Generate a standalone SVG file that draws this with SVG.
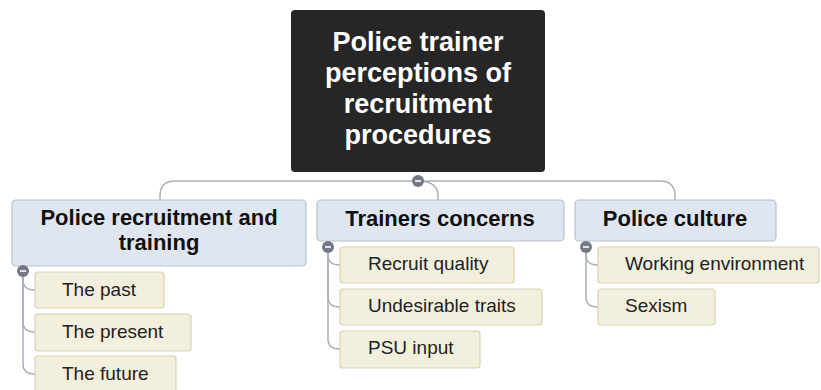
<svg xmlns="http://www.w3.org/2000/svg" width="821" height="390" viewBox="0 0 821 390">
<style>
.conn{fill:none;stroke:#a9afb8;stroke-width:1.5}
.root{fill:#262626}
.rt{font-family:"Liberation Sans",Arial,sans-serif;font-weight:bold;font-size:27px;fill:#fff;text-anchor:middle}
.l1{fill:#dfe6ef;stroke:#b9c1cc;stroke-width:1.2}
.t1{font-family:"Liberation Sans",Arial,sans-serif;font-weight:bold;font-size:22px;fill:#111;text-anchor:middle}
.l2{fill:#f2efdd;stroke:#d8d2b2;stroke-width:1.2}
.t2{font-family:"Liberation Sans",Arial,sans-serif;font-size:19px;fill:#222}
.tog{fill:#737a84}
.min{stroke:#fff;stroke-width:1.6}
</style>
<rect width="821" height="390" fill="#fff"/>
<g id="connectors">
<path class="conn" d="M160,200 V196 Q160,181 175,181 H660 Q675,181 675,196 V200"/>
<path class="conn" d="M418,181 Q438,181 438,196 V200"/>
<path class="conn" d="M23,271 V280 Q23,290 35,290"/>
<path class="conn" d="M23,271 V322 Q23,332 35,332"/>
<path class="conn" d="M23,271 V364 Q23,374 35,374"/>
<path class="conn" d="M328,247 V255 Q328,265 340,265"/>
<path class="conn" d="M328,247 V297 Q328,307 340,307"/>
<path class="conn" d="M328,247 V339 Q328,349 340,349"/>
<path class="conn" d="M586,247 V255 Q586,265 598,265"/>
<path class="conn" d="M586,247 V297 Q586,307 598,307"/>
</g>
<g id="root">
<rect class="root" x="291" y="10" width="254" height="162" rx="4"/>
<text class="rt" x="418" y="51">Police trainer</text>
<text class="rt" x="418" y="82">perceptions of</text>
<text class="rt" x="418" y="113">recruitment</text>
<text class="rt" x="418" y="144">procedures</text>
</g>
<g id="toggle-root"><circle class="tog" cx="418" cy="181" r="6"/><line class="min" x1="415" y1="181" x2="421" y2="181"/></g>
<g id="n-recruitment">
<rect class="l1" x="12" y="200" width="294" height="66" rx="4"/>
<text class="t1" x="159" y="225">Police recruitment and</text>
<text class="t1" x="159" y="250">training</text>
</g>
<g id="n-concerns">
<rect class="l1" x="317" y="200" width="247" height="41" rx="4"/>
<text class="t1" x="440" y="226">Trainers concerns</text>
</g>
<g id="n-culture">
<rect class="l1" x="575" y="200" width="201" height="41" rx="4"/>
<text class="t1" x="675" y="226">Police culture</text>
</g>
<g id="toggle-1"><circle class="tog" cx="23" cy="271" r="6"/><line class="min" x1="20" y1="271" x2="26" y2="271"/></g>
<g id="toggle-2"><circle class="tog" cx="328" cy="247" r="6"/><line class="min" x1="325" y1="247" x2="331" y2="247"/></g>
<g id="toggle-3"><circle class="tog" cx="586" cy="247" r="6"/><line class="min" x1="583" y1="247" x2="589" y2="247"/></g>
<g id="n-past"><rect class="l2" x="35" y="272" width="129" height="36" rx="3"/><text class="t2" x="62" y="296">The past</text></g>
<g id="n-present"><rect class="l2" x="35" y="314" width="156" height="37" rx="3"/><text class="t2" x="62" y="338">The present</text></g>
<g id="n-future"><rect class="l2" x="35" y="356" width="141" height="37" rx="3"/><text class="t2" x="62" y="380">The future</text></g>
<g id="n-quality"><rect class="l2" x="340" y="247" width="174" height="36" rx="3"/><text class="t2" x="368" y="270">Recruit quality</text></g>
<g id="n-traits"><rect class="l2" x="340" y="289" width="202" height="36" rx="3"/><text class="t2" x="368" y="312">Undesirable traits</text></g>
<g id="n-psu"><rect class="l2" x="340" y="331" width="140" height="37" rx="3"/><text class="t2" x="368" y="354">PSU input</text></g>
<g id="n-working"><rect class="l2" x="598" y="247" width="221" height="36" rx="3"/><text class="t2" x="625" y="270">Working environment</text></g>
<g id="n-sexism"><rect class="l2" x="598" y="289" width="117" height="36" rx="3"/><text class="t2" x="625" y="312">Sexism</text></g>
</svg>
